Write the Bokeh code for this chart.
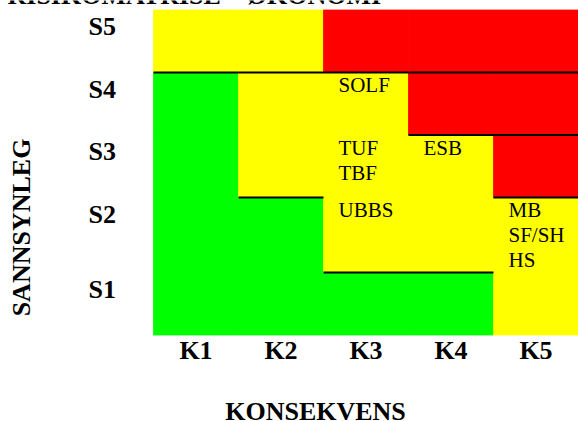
from bokeh.plotting import figure
from bokeh.models import Range1d
from bokeh.core.properties import value
from bokeh.embed import file_html
from bokeh.resources import INLINE
import math

# ---------------- data ----------------
title = "RISIKOMATRISE – ØKONOMI"
x_title = "KONSEKVENS"
y_title = "SANNSYNLEG"
cons_labels = ["K1", "K2", "K3", "K4", "K5"]
prob_labels = ["S1", "S2", "S3", "S4", "S5"]   # bottom to top

# risk level per cell, rows S1..S5, columns K1..K5 (G=low, Y=medium, R=high)
levels = [
    ["G", "G", "G", "G", "Y"],  # S1
    ["G", "G", "Y", "Y", "Y"],  # S2
    ["G", "Y", "Y", "Y", "R"],  # S3
    ["G", "Y", "Y", "R", "R"],  # S4
    ["Y", "Y", "R", "R", "R"],  # S5
]

# items placed in cells: (row index S1=0, column index K1=0, items)
cell_items = [
    (3, 2, ["SOLF"]),
    (2, 2, ["TUF", "TBF"]),
    (2, 3, ["ESB"]),
    (1, 2, ["UBBS"]),
    (1, 4, ["MB", "SF/SH", "HS"]),
]

# border lines on row boundaries: (boundary index, first col, last col exclusive)
borders = [
    (4, 0, 5),
    (3, 3, 5),
    (2, 1, 2),
    (2, 4, 5),
    (1, 2, 4),
]

# ---------------- layout ----------------
colors = {"G": "#00FF00", "Y": "#FFFF00", "R": "#FF0000"}
row_heights = [1.0, 1.2, 1.0, 1.0, 1.0]
row_edges = [0.0]
for h in row_heights:
    row_edges.append(row_edges[-1] + h)

W, H = 578, 421
COL_PX = 85.0          # pixels per column unit
ROW_PX = 62.5          # pixels per row unit
GRID_LEFT = 153.0      # canvas x of grid left
GRID_BOTTOM = 334.5    # canvas y of grid bottom
SHIFT_BIG = 9.0        # renderer baseline correction for 26px text
SHIFT_SMALL = 7.5      # renderer baseline correction for 21px text

def cx(px):  # canvas x pixel -> data x
    return (px - GRID_LEFT) / COL_PX

def cy(py):  # canvas y pixel (from top) -> data y
    return (GRID_BOTTOM - py) / ROW_PX

p = figure(width=W, height=H, output_backend="svg", toolbar_location=None,
           x_range=Range1d(cx(0), cx(W)), y_range=Range1d(cy(H), cy(0)),
           min_border=0, outline_line_color=None)
p.xaxis.visible = False
p.yaxis.visible = False
p.grid.visible = False

# cells
left, right, bottom, top, fill = [], [], [], [], []
for r, row in enumerate(levels):
    for c, lv in enumerate(row):
        left.append(c)
        right.append(c + 1)
        bottom.append(row_edges[r])
        top.append(row_edges[r + 1])
        fill.append(colors[lv])
p.quad(left=left, right=right, bottom=bottom, top=top, fill_color=fill,
       line_color=fill, line_width=0.8)

# borders
x0 = [b[1] for b in borders]
x1 = [b[2] for b in borders]
yb = [row_edges[b[0]] for b in borders]
p.segment(x0=x0, y0=yb, x1=x1, y1=yb, line_color="black", line_width=2)

serif = value("Liberation Serif")

# cell texts
tx, ty, tt = [], [], []
for r, c, items in cell_items:
    for i, it in enumerate(items):
        tx.append(c + 15 / COL_PX)
        ty.append(row_edges[r + 1] - (20 - SHIFT_SMALL + 25 * i) / ROW_PX)
        tt.append(it)
p.text(x=tx, y=ty, text=tt, text_font=serif, text_font_size="21px",
       text_baseline="alphabetic", text_align="left", text_color="black")

# column labels
p.text(x=[i + 0.5 for i in range(5)], y=[cy(359 - SHIFT_BIG)] * 5, text=cons_labels,
       text_font=serif, text_font_size="26px", text_font_style="bold",
       text_align="center", text_baseline="alphabetic", text_color="black")

# row labels
p.text(x=[cx(88)] * 5,
       y=[row_edges[i + 1] - (25.5 - SHIFT_BIG) / ROW_PX for i in range(5)],
       text=prob_labels, text_font=serif, text_font_size="26px",
       text_font_style="bold", text_align="left", text_baseline="alphabetic",
       text_color="black")

# axis titles
p.text(x=[cx(315)], y=[cy(420 - SHIFT_BIG)], text=[x_title], text_font=serif,
       text_font_size="26px", text_font_style="bold", text_align="center",
       text_baseline="alphabetic", text_color="black")
p.text(x=[cx(29.5 - SHIFT_BIG)], y=[cy(227)], text=[y_title], text_font=serif,
       text_font_size="26px", text_font_style="bold", text_align="center",
       text_baseline="alphabetic", angle=math.pi / 2, text_color="black")

# chart title (mostly above the visible area, as in the reference)
p.text(x=[cx(7)], y=[cy(4 - SHIFT_BIG)], text=[title], text_font=serif,
       text_font_size="26px", text_font_style="bold", text_align="left",
       text_baseline="alphabetic", text_color="black")

open("out.html", "w").write(file_html(p, INLINE))
